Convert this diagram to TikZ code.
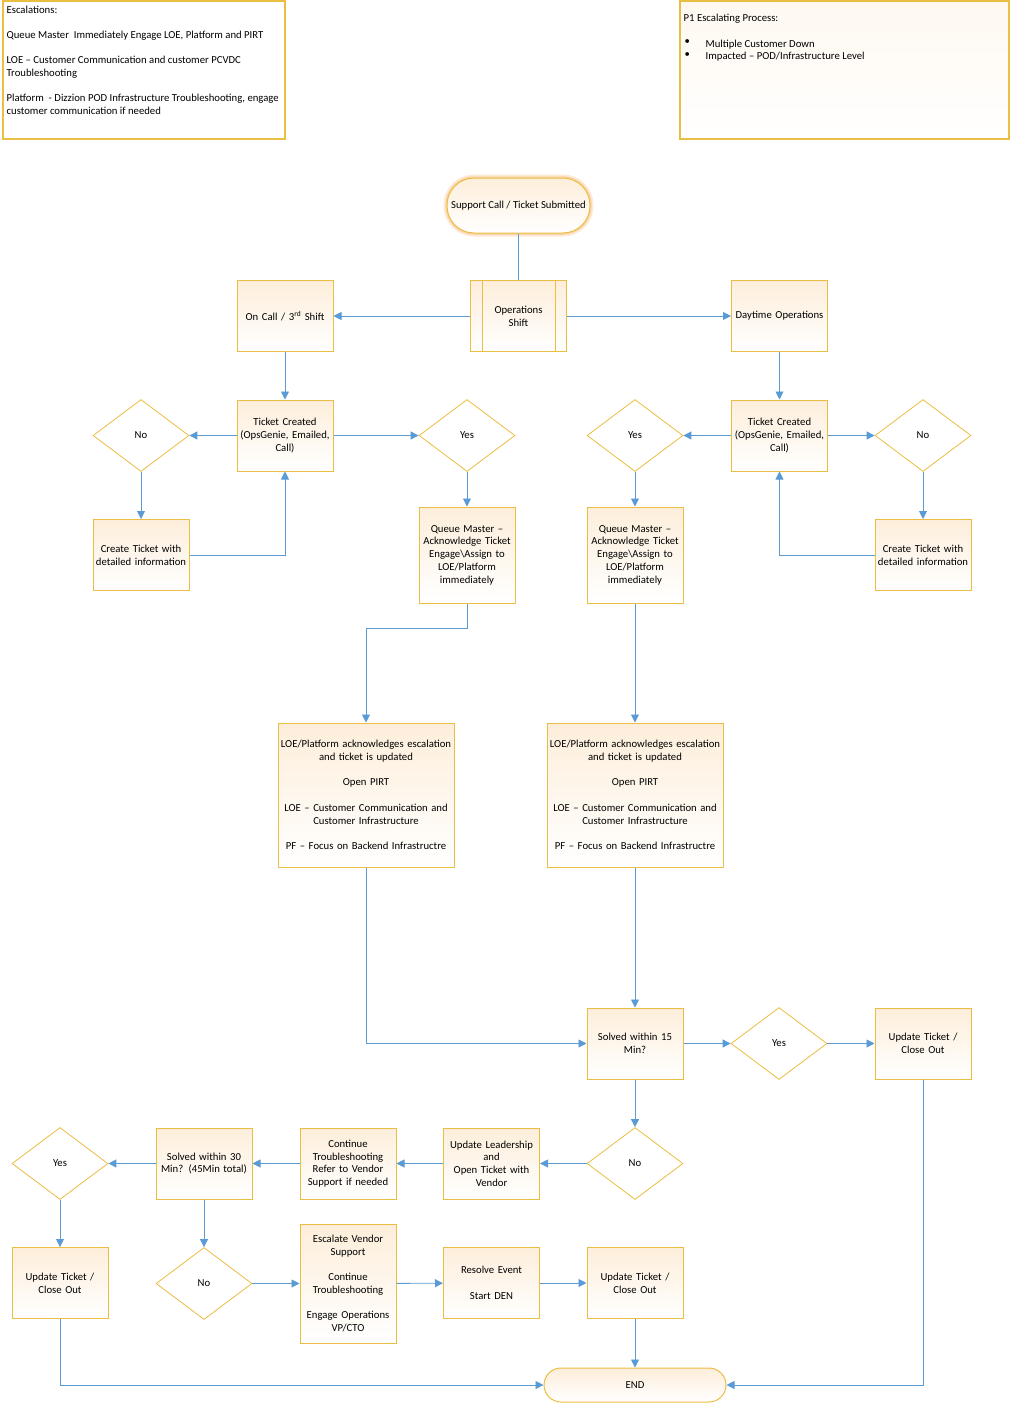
\documentclass[tikz,border=0pt]{standalone}
\usepackage{fontspec}
\setmainfont{Carlito}
\usetikzlibrary{shapes.geometric, arrows.meta}

\definecolor{linkblue}{RGB}{91,155,213}
\definecolor{boxgold}{RGB}{234,190,66}
\definecolor{boxtint}{RGB}{253,238,218}
\definecolor{glowtint}{RGB}{247,170,90}

\tikzset{
  every node/.style={font=\fontsize{10.7}{12.7}\selectfont},
  procbox/.style={draw=boxgold, line width=1pt, top color=boxtint, bottom color=white,
    minimum width=96pt, minimum height=71pt, text width=92pt, inner sep=2pt, align=center},
  widebox/.style={procbox, minimum width=176pt, minimum height=144pt, text width=172pt},
  decision/.style={diamond, draw=boxgold, line width=0.8pt, fill=white,
    minimum width=96pt, minimum height=72pt, inner sep=0pt},
  terminal/.style={draw=boxgold, line width=1pt, top color=boxtint, bottom color=white, align=center},
  notebox/.style={draw=boxgold, line width=1.1pt, fill=white},
  link/.style={draw=linkblue, line width=0.9pt, -{Triangle[length=8pt,width=8pt]}},
  plainlink/.style={draw=linkblue, line width=0.9pt}
}

\begin{document}
\begin{tikzpicture}[x=1pt, y=-1pt]
    \useasboundingbox (0,0) rectangle (1011,1405);

    % Note boxes at the top
    \node[notebox, minimum width=282pt, minimum height=138pt] (esc) at (144,70) {};
    \node[anchor=north west, align=left, inner sep=0pt] (esctext) at ([shift={(4,5)}]esc.north west)
        {Escalations:\\[12.7pt]
         Queue Master\ \ Immediately Engage LOE, Platform and PIRT\\[12.7pt]
         LOE -- Customer Communication and customer PCVDC\\
         Troubleshooting\\[12.7pt]
         Platform\ \ - Dizzion POD Infrastructure Troubleshooting, engage\\
         customer communication if needed};

    \node[notebox, top color=boxtint!40, bottom color=white, minimum width=329pt, minimum height=138pt] (p1) at (844.5,70) {};
    \node[anchor=north west, inner sep=0pt] (p1text) at ([shift={(4,13)}]p1.north west) {P1 Escalating Process:};
    \node[anchor=north west, inner sep=0pt, align=left] (p1dot) at ([shift={(5,39)}]p1.north west) {\textbullet\\\textbullet};
    \node[anchor=north west, inner sep=0pt, align=left] (p1list) at ([shift={(26,39)}]p1.north west)
        {Multiple Customer Down\\Impacted -- POD/Infrastructure Level};

    % Start and shift split
    \node[terminal, rounded corners=27pt, minimum width=143pt, minimum height=55pt,
          preaction={draw=glowtint, draw opacity=0.25, line width=7pt},
          preaction={draw=glowtint, draw opacity=0.35, line width=3.5pt}] (start) at (518.5,205.5)
        {Support Call / Ticket Submitted};
    \node[procbox] (ops) at (518.5,316) {Operations\\Shift};
    \draw[boxgold, line width=1pt] ([xshift=12pt]ops.north west) -- ([xshift=12pt]ops.south west);
    \draw[boxgold, line width=1pt] ([xshift=-12pt]ops.north east) -- ([xshift=-12pt]ops.south east);
    \node[procbox] (oncall) at (285,316) {On Call / 3\textsuperscript{rd} Shift};
    \node[procbox] (daytime) at (779.5,316) {Daytime Operations};

    % Ticket intake, both sides
    \node[procbox] (tcL) at (285,435.5) {Ticket Created\\(OpsGenie, Emailed,\\Call)};
    \node[decision] (noL) at (141,435.5) {No};
    \node[decision] (yesL) at (467,435.5) {Yes};
    \node[procbox] (ctL) at (141,555) {Create Ticket with\\detailed information};
    \node[procbox, minimum height=96pt] (qmL) at (467,555)
        {Queue Master --\\Acknowledge Ticket\\Engage\textbackslash Assign to\\LOE/Platform\\immediately};

    \node[procbox] (tcR) at (779.5,435.5) {Ticket Created\\(OpsGenie, Emailed,\\Call)};
    \node[decision] (yesR) at (635,435.5) {Yes};
    \node[decision] (noR) at (923,435.5) {No};
    \node[procbox] (ctR) at (923,555) {Create Ticket with\\detailed information};
    \node[procbox, minimum height=96pt] (qmR) at (635,555)
        {Queue Master --\\Acknowledge Ticket\\Engage\textbackslash Assign to\\LOE/Platform\\immediately};

    % Escalation boxes
    \node[widebox] (loeL) at (366,795)
        {LOE/Platform acknowledges escalation\\and ticket is updated\\[12.7pt]
         Open PIRT\\[12.7pt]
         LOE -- Customer Communication and\\Customer Infrastructure\\[12.7pt]
         PF -- Focus on Backend Infrastructre};
    \node[widebox] (loeR) at (635,795)
        {LOE/Platform acknowledges escalation\\and ticket is updated\\[12.7pt]
         Open PIRT\\[12.7pt]
         LOE -- Customer Communication and\\Customer Infrastructure\\[12.7pt]
         PF -- Focus on Backend Infrastructre};

    % 15 minute check
    \node[procbox] (s15) at (635,1043.5) {Solved within 15\\Min?};
    \node[decision] (yes15) at (779,1043.5) {Yes};
    \node[procbox] (upR) at (923,1043.5) {Update Ticket /\\Close Out};
    \node[decision] (no15) at (635,1163.5) {No};
    \node[procbox] (lead) at (491.5,1163.5) {Update Leadership\\and\\Open Ticket with\\Vendor};
    \node[procbox] (cont) at (348,1163.5) {Continue\\Troubleshooting\\Refer to Vendor\\Support if needed};

    % 30 minute check
    \node[procbox] (s30) at (204,1163.5) {Solved within 30\\Min? (45Min total)};
    \node[decision] (yes30) at (60,1163.5) {Yes};
    \node[procbox] (up30) at (60,1283) {Update Ticket /\\Close Out};
    \node[decision] (no30) at (204,1283.5) {No};
    \node[procbox, minimum height=119pt] (esV) at (348,1283.5)
        {Escalate Vendor\\Support\\[12.7pt]
         Continue\\Troubleshooting\\[12.7pt]
         Engage Operations\\VP/CTO};
    \node[procbox] (resolve) at (491.5,1283) {Resolve Event\\[12.7pt]Start DEN};
    \node[procbox] (upC) at (635,1283) {Update Ticket /\\Close Out};
    \node[terminal, rounded corners=17pt, minimum width=182pt, minimum height=34pt] (end) at (635,1385) {END};

    % Draw connectors
    \draw[plainlink] (start) -- (ops);
    \draw[link] (ops) -- (oncall);
    \draw[link] (ops) -- (daytime);
    \draw[link] (oncall) -- (tcL);
    \draw[link] (daytime) -- (tcR);
    \draw[link] (tcL) -- (noL);
    \draw[link] (tcL) -- (yesL);
    \draw[link] (noL) -- (ctL);
    \draw[link] (ctL.east) -| (tcL.south);
    \draw[link] (yesL) -- (qmL);
    \draw[link] (tcR) -- (yesR);
    \draw[link] (tcR) -- (noR);
    \draw[link] (yesR) -- (qmR);
    \draw[link] (noR) -- (ctR);
    \draw[link] (ctR.west) -| (tcR.south);

    \coordinate (bendL) at (467,628);
    \draw[link] (qmL.south) -- (bendL) -| (loeL.north);
    \draw[link] (qmR) -- (loeR);
    \draw[link] (loeL.south) |- (s15.west);
    \draw[link] (loeR) -- (s15);

    \draw[link] (s15) -- (yes15);
    \draw[link] (yes15) -- (upR);
    \draw[link] (s15) -- (no15);
    \draw[link] (no15) -- (lead);
    \draw[link] (lead) -- (cont);
    \draw[link] (cont) -- (s30);
    \draw[link] (s30) -- (yes30);
    \draw[link] (yes30) -- (up30);
    \draw[link] (s30) -- (no30);
    \draw[link] (no30) -- (esV);
    \draw[link] (esV) -- (resolve);
    \draw[link] (resolve) -- (upC);
    \draw[link] (upC) -- (end);
    \draw[link] (up30.south) |- (end.west);
    \draw[link] (upR.south) |- (end.east);
\end{tikzpicture}
\end{document}
